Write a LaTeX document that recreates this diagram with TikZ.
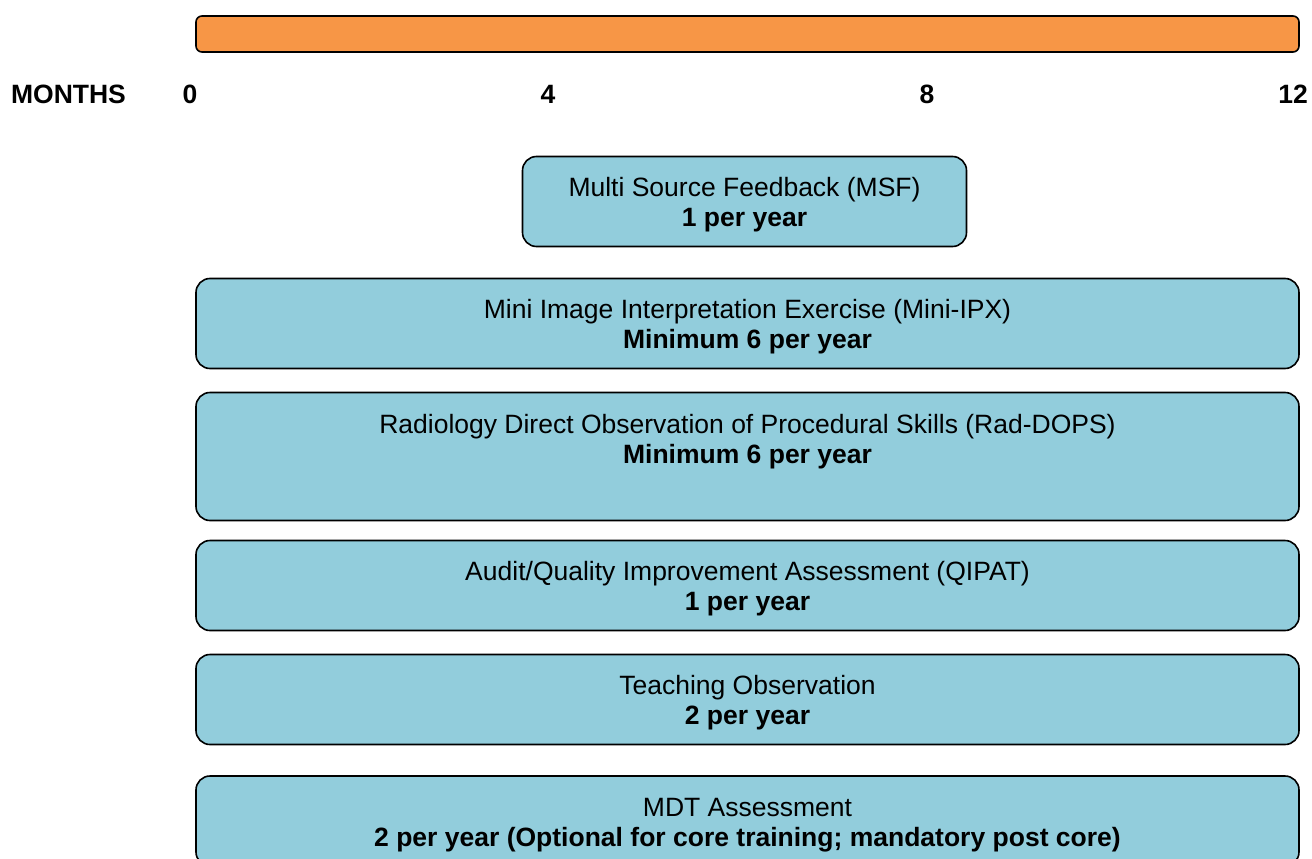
\documentclass[tikz,border=0pt]{standalone}
\usepackage{fontspec}
\setmainfont{Liberation Sans}
\definecolor{barorange}{HTML}{F79646}
\definecolor{boxblue}{HTML}{92CDDC}
\newcommand{\shiftedtext}[2]{\raisebox{#1}[\height][\depth]{\begin{tabular}{@{}c@{}}#2\end{tabular}}}
\tikzset{
  basebox/.style={draw=black, line width=1.6pt, inner sep=0pt, align=center,
    font=\fontsize{26.5}{30}\selectfont},
  bluebox/.style={basebox, fill=boxblue, rounded corners=14pt},
  barbox/.style={basebox, fill=barorange, rounded corners=6pt},
  lbl/.style={inner sep=0pt, font=\fontsize{26.5}{30}\selectfont\bfseries}
}
\begin{document}
\begin{tikzpicture}[x=1pt, y=-1pt]
\clip (0,0) rectangle (1312,859);
\fill[white] (0,0) rectangle (1312,859);
\node[barbox, minimum width=1103pt, minimum height=36pt] (bar) at (747.5,34) {};
\node[lbl] (months) at (68.5,94) {MONTHS};
\node[lbl] (m0) at (190,94) {0};
\node[lbl] (m4) at (548,94) {4};
\node[lbl] (m8) at (927,94) {8};
\node[lbl] (m12) at (1293,94) {12};
\node[bluebox, minimum width=444pt, minimum height=90pt] (msf) at (744.5,201.5)
  {\shiftedtext{-3.5pt}{Multi Source Feedback (MSF)\\ \textbf{1 per year}}};
\node[bluebox, minimum width=1103pt, minimum height=90pt] (ipx) at (747.5,323.5)
  {\shiftedtext{-4pt}{Mini Image Interpretation Exercise (Mini-IPX)\\ \textbf{Minimum 6 per year}}};
\node[bluebox, minimum width=1103pt, minimum height=128pt] (dops) at (747.5,456.5)
  {\shiftedtext{14.5pt}{Radiology Direct Observation of Procedural Skills (Rad-DOPS)\\ \textbf{Minimum 6 per year}}};
\node[bluebox, minimum width=1103pt, minimum height=90pt] (qipat) at (747.5,585.5)
  {\shiftedtext{-3.5pt}{Audit/Quality Improvement Assessment (QIPAT)\\ \textbf{1 per year}}};
\node[bluebox, minimum width=1103pt, minimum height=90pt] (teach) at (747.5,699.5)
  {\shiftedtext{-3.5pt}{Teaching Observation\\ \textbf{2 per year}}};
\node[bluebox, minimum width=1103pt, minimum height=90pt] (mdt) at (747.5,821)
  {\shiftedtext{-4pt}{MDT Assessment\\ \textbf{2 per year (Optional for core training; mandatory post core)}}};
\end{tikzpicture}
\end{document}
